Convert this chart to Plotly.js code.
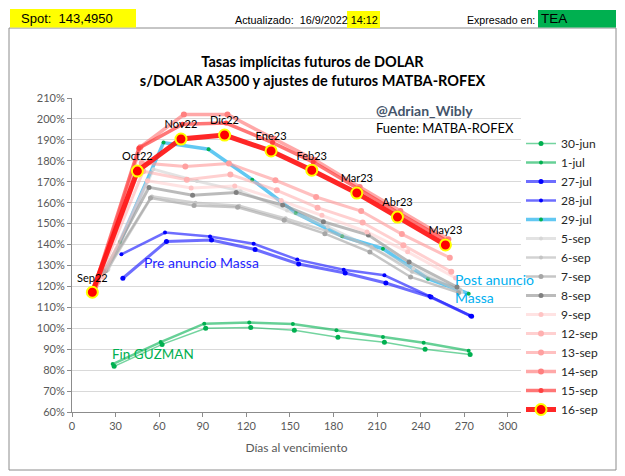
<!DOCTYPE html>
<html>
<head>
<meta charset="utf-8">
<script src="https://cdn.plot.ly/plotly-3.0.1.min.js"></script>
<style>
  html, body { margin: 0; padding: 0; background: #ffffff; }
  #chart { width: 625px; height: 476px; }
</style>
</head>
<body>
<div id="chart"></div>
<script>
// Contract months of the 16-sep curve (labels on its markers)
const contratos = ['Sep22', 'Oct22', 'Nov22', 'Dic22', 'Ene23', 'Feb23', 'Mar23', 'Abr23', 'May23'];

// Days to maturity and implied annual rate (TEA, %) for each quote date
const dias30jun = [29, 62, 92, 123, 153, 183, 215, 243, 274];
const tasa30jun = [81.8, 92.3, 100.0, 100.4, 99.1, 95.7, 93.3, 90.0, 87.5];

const dias01jul = [28, 61, 91, 122, 152, 182, 214, 242, 273];
const tasa01jul = [82.9, 93.4, 102.2, 102.7, 102.0, 99.0, 95.8, 93.1, 89.3];

const dias27jul = [35, 65, 96, 126, 156, 188, 216, 247, 275];
const tasa27jul = [123.9, 141.5, 142.2, 137.6, 130.7, 126.4, 121.6, 114.9, 105.7];

const dias28jul = [34, 64, 95, 125, 155, 187, 215, 246, 274];
const tasa28jul = [135.3, 145.7, 143.8, 140.4, 132.8, 128.0, 125.3, 115.4, 106.0];

const dias29jul = [33, 63, 94, 124, 154, 186, 214, 245, 273];
const tasa29jul = [141.2, 188.7, 185.5, 171.0, 155.1, 143.9, 138.0, 123.7, 116.5];

const dias05sep = [25, 56, 86, 116, 148, 176, 207, 235, 268];
const tasa05sep = [128.0, 176.0, 170.3, 165.5, 156.3, 148.5, 138.1, 128.5, 117.3];

const dias06sep = [24, 55, 85, 115, 147, 175, 206, 234, 267];
const tasa06sep = [127.5, 163.0, 160.0, 158.5, 152.5, 146.5, 139.0, 127.0, 118.5];

const dias07sep = [23, 54, 84, 114, 146, 174, 205, 233, 266];
const tasa07sep = [127.5, 162.2, 158.7, 157.8, 151.6, 145.2, 136.4, 124.5, 117.0];

const dias08sep = [22, 53, 83, 113, 145, 173, 204, 232, 265];
const tasa08sep = [127.0, 167.3, 163.5, 164.9, 158.9, 150.9, 144.5, 131.6, 119.7];

const dias09sep = [21, 52, 82, 112, 144, 172, 203, 231, 264];
const tasa09sep = [124.5, 170.5, 167.0, 168.0, 161.0, 154.0, 146.0, 136.5, 124.0];

const dias12sep = [18, 49, 79, 109, 141, 169, 200, 228, 261];
const tasa12sep = [122.5, 175.0, 171.0, 173.5, 165.9, 157.6, 150.5, 139.6, 127.0];

const dias13sep = [17, 48, 78, 108, 140, 168, 199, 227, 260];
const tasa13sep = [121.5, 179.0, 177.3, 178.7, 170.7, 162.7, 156.0, 145.0, 133.7];

const dias14sep = [16, 47, 77, 107, 139, 167, 198, 226, 259];
const tasa14sep = [120.0, 186.5, 202.1, 202.1, 190.5, 180.5, 167.5, 156.0, 142.5];

const dias15sep = [15, 46, 76, 106, 138, 166, 197, 225, 258];
const tasa15sep = [119.0, 186.0, 197.5, 198.0, 188.7, 179.4, 166.7, 155.0, 141.7];

const dias16sep = [14, 45, 75, 105, 137, 165, 196, 224, 257];
const tasa16sep = [117.2, 175.1, 190.4, 192.3, 184.7, 175.5, 164.6, 153.1, 139.8];

const FONT_BODY = 'Lato, "Open Sans", sans-serif';
const FONT_HEAD = '"Liberation Sans", Arial, sans-serif';

function serie(nombre, x, y, lineColor, lineWidth, markerColor, markerSize) {
  return {
    type: 'scatter', mode: 'lines+markers', name: nombre,
    x: x, y: y,
    line: { color: lineColor, width: lineWidth },
    marker: { color: markerColor, size: markerSize },
    hoverinfo: 'x+y+name'
  };
}

const traces = [
  serie('30-jun', dias30jun, tasa30jun, 'rgba(0,176,80,0.55)', 1.5, '#00b050', 5),
  serie('1-jul',  dias01jul, tasa01jul, 'rgba(0,176,80,0.6)', 2.5, '#00b050', 4),
  serie('27-jul', dias27jul, tasa27jul, 'rgba(30,30,255,0.65)', 3, '#0000ff', 5),
  serie('28-jul', dias28jul, tasa28jul, 'rgba(30,30,255,0.65)', 2.5, '#0000ff', 4),
  serie('29-jul', dias29jul, tasa29jul, 'rgba(70,190,240,0.85)', 3.5, '#00b050', 4),
  serie('5-sep',  dias05sep, tasa05sep, 'rgba(200,200,200,0.5)', 3, '#d6d6d6', 4),
  serie('6-sep',  dias06sep, tasa06sep, 'rgba(180,180,180,0.6)', 2.5, '#c4c4c4', 4),
  serie('7-sep',  dias07sep, tasa07sep, 'rgba(160,160,160,0.6)', 2.5, '#a6a6a6', 5),
  serie('8-sep',  dias08sep, tasa08sep, 'rgba(150,150,150,0.65)', 3, '#808080', 5),
  serie('9-sep',  dias09sep, tasa09sep, 'rgba(255,200,200,0.5)', 3, '#ffc4c4', 5),
  serie('12-sep', dias12sep, tasa12sep, 'rgba(255,170,170,0.55)', 3, '#ffb0b0', 6),
  serie('13-sep', dias13sep, tasa13sep, 'rgba(255,150,150,0.6)', 3, '#ffa0a0', 6),
  serie('14-sep', dias14sep, tasa14sep, 'rgba(255,110,110,0.6)', 3.5, '#ff7f7f', 6),
  serie('15-sep', dias15sep, tasa15sep, 'rgba(255,60,60,0.7)', 3.5, '#ff4040', 5),
  {
    type: 'scatter', mode: 'lines+markers+text', name: '16-sep',
    x: dias16sep, y: tasa16sep, text: contratos,
    textposition: 'top center',
    textfont: { family: FONT_BODY, size: 11, color: '#000000' },
    line: { color: 'rgba(255,20,20,0.92)', width: 5 },
    marker: { color: '#ff0000', size: 11, line: { color: '#ffff00', width: 2 } },
    hoverinfo: 'x+y+name'
  }
];

// paper coordinates of a pixel position inside the 625x476 frame
const M = { l: 72, r: 104, t: 98, b: 64 };
const PW = 625 - M.l - M.r, PH = 476 - M.t - M.b;
const px = v => (v - M.l) / PW;
const py = v => (476 - M.b - v) / PH;

const layout = {
  width: 625, height: 476,
  margin: M,
  paper_bgcolor: '#ffffff', plot_bgcolor: '#ffffff',
  font: { family: FONT_BODY, color: '#000000' },
  title: {
    text: '<b>Tasas implícitas futuros de DOLAR</b><br><b>s/DOLAR A3500 y ajustes de futuros MATBA-ROFEX</b>',
    font: { family: FONT_BODY, size: 14.5, color: '#000000' },
    xref: 'container', yref: 'container', x: 0.5, y: (476 - 67) / 476,
    xanchor: 'center', yanchor: 'middle'
  },
  xaxis: {
    range: [0, 309], tick0: 0, dtick: 30,
    showgrid: false, zeroline: false,
    showline: true, linecolor: '#8c8c8c', linewidth: 1,
    ticks: 'outside', ticklen: 4, tickcolor: '#8c8c8c',
    tickfont: { family: FONT_BODY, size: 11, color: '#595959' },
    title: { text: 'Días al vencimiento', font: { family: FONT_BODY, size: 12, color: '#595959' }, standoff: 12 }
  },
  yaxis: {
    range: [60, 210], tick0: 60, dtick: 10, ticksuffix: '%',
    showgrid: true, gridcolor: '#d9d9d9', gridwidth: 1, zeroline: false,
    showline: true, linecolor: '#8c8c8c', linewidth: 1,
    ticks: 'outside', ticklen: 4, tickcolor: '#8c8c8c',
    tickfont: { family: FONT_BODY, size: 11, color: '#595959' }
  },
  legend: {
    x: px(521), y: py(129), xanchor: 'left', yanchor: 'top',
    bgcolor: 'rgba(0,0,0,0)', borderwidth: 0,
    font: { family: FONT_BODY, size: 12, color: '#262626' },
    tracegroupgap: 0
  },
  shapes: [
    // chart frame
    { type: 'rect', xref: 'paper', yref: 'paper', x0: px(9), x1: px(616), y0: py(470), y1: py(28),
      line: { color: '#8c8c8c', width: 1 }, fillcolor: 'rgba(0,0,0,0)', layer: 'below' },
    // header highlights
    { type: 'rect', xref: 'paper', yref: 'paper', x0: px(10), x1: px(136), y0: py(27.5), y1: py(9),
      line: { width: 0 }, fillcolor: '#ffff00' },
    { type: 'rect', xref: 'paper', yref: 'paper', x0: px(347), x1: px(380), y0: py(28), y1: py(11),
      line: { width: 0 }, fillcolor: '#ffff00' },
    { type: 'rect', xref: 'paper', yref: 'paper', x0: px(538), x1: px(616), y0: py(27.5), y1: py(10),
      line: { width: 0 }, fillcolor: '#00b050' }
  ],
  annotations: [
    { xref: 'paper', yref: 'paper', x: px(19), y: py(18.5), xanchor: 'left', yanchor: 'middle',
      text: 'Spot:\u00a0\u00a0143,4950', showarrow: false, font: { family: FONT_HEAD, size: 13, color: '#000000' } },
    { xref: 'paper', yref: 'paper', x: px(233), y: py(20), xanchor: 'left', yanchor: 'middle',
      text: 'Actualizado:\u00a0\u00a016/9/2022\u00a014:12', showarrow: false, font: { family: FONT_HEAD, size: 10.8, color: '#000000' } },
    { xref: 'paper', yref: 'paper', x: px(465), y: py(20), xanchor: 'left', yanchor: 'middle',
      text: 'Expresado en:', showarrow: false, font: { family: FONT_HEAD, size: 10.6, color: '#000000' } },
    { xref: 'paper', yref: 'paper', x: px(539), y: py(19), xanchor: 'left', yanchor: 'middle',
      text: 'TEA', showarrow: false, font: { family: FONT_HEAD, size: 13.5, color: '#000000' } },

    { xref: 'x', yref: 'y', x: 207.8, y: 204.1, xanchor: 'left', yanchor: 'middle',
      text: '<b>@Adrian_Wibly</b>', showarrow: false, font: { family: FONT_BODY, size: 14, color: '#44546a' } },
    { xref: 'x', yref: 'y', x: 207.8, y: 195.9, xanchor: 'left', yanchor: 'middle',
      text: 'Fuente: MATBA-ROFEX', showarrow: false, font: { family: FONT_BODY, size: 13, color: '#000000' } },
    { xref: 'x', yref: 'y', x: 89.3, y: 131.4, xanchor: 'center', yanchor: 'middle',
      text: 'Pre anuncio Massa', showarrow: false, font: { family: FONT_BODY, size: 14, color: '#1f1fff' } },
    { xref: 'x', yref: 'y', x: 55.4, y: 87.9, xanchor: 'center', yanchor: 'middle',
      text: 'Fin GUZMAN', showarrow: false, font: { family: FONT_BODY, size: 13.5, color: '#00b050' } },
    { xref: 'x', yref: 'y', x: 262, y: 118.9, xanchor: 'left', yanchor: 'middle', align: 'left',
      text: 'Post anuncio<br>Massa', showarrow: false, font: { family: FONT_BODY, size: 14, color: '#00b0f0' } }
  ]
};

Plotly.newPlot('chart', traces, layout, { displayModeBar: false, staticPlot: true });
</script>
</body>
</html>
